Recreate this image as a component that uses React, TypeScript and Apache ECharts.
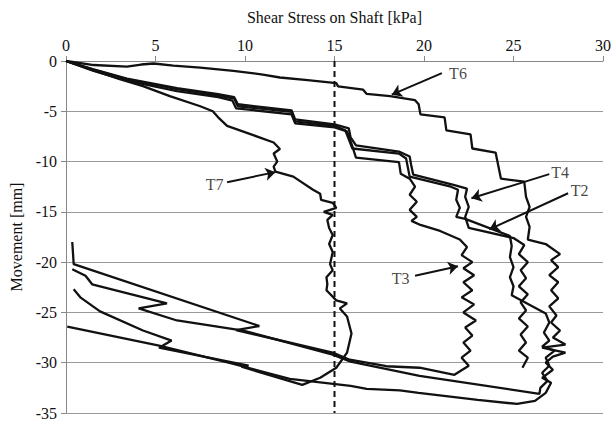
import React, { useEffect, useRef } from "react";
import * as echarts from "echarts";

// Axis ticks
const xTicks = [0, 5, 10, 15, 20, 25, 30];
const yTicks = [0, -5, -10, -15, -20, -25, -30, -35];
const xTitle = "Shear Stress on Shaft [kPa]";
const yTitle = "Movement [mm]";

// Curves: [shear stress kPa, movement mm]
const t6: number[][] = [
  [0, 0], [1.55, -0.4], [3.4, -0.55], [4.2, -0.35], [4.9, -0.25], [6.0, -0.45], [7.5, -0.65],
  [9.35, -0.98], [11.0, -1.35], [11.95, -1.64], [13.5, -1.9], [15.1, -2.2], [15.2, -2.52],
  [16.6, -2.85], [16.8, -3.27], [18.1, -3.5], [19.5, -3.9], [19.7, -4.3], [19.8, -5.3],
  [21.15, -5.6], [21.25, -6.9], [22.6, -7.3], [22.7, -8.7], [24.0, -9.1], [24.3, -11.7],
  [25.6, -12.0], [25.7, -13.5], [25.9, -14.5], [25.7, -15.5], [25.9, -16.5], [25.8, -17.75],
  [26.8, -18.2], [27.6, -19.2], [27.1, -19.8], [27.5, -20.5], [27.0, -21.3], [27.5, -22.0],
  [27.1, -22.8], [27.5, -23.6], [27.0, -24.4], [27.4, -25.3], [27.1, -26.0], [27.6, -26.8],
  [27.2, -27.5], [27.9, -28.2], [26.6, -28.5], [27.9, -29.0], [27.2, -29.4], [26.8, -30.0],
  [27.2, -30.7], [26.6, -31.5], [27.1, -32.0], [26.8, -33.0], [26.2, -33.8], [25.2, -34.1],
  [23.0, -33.7], [19.7, -33.0], [18.65, -32.75], [16.8, -32.6], [15.9, -32.3], [12.5, -31.6],
  [9.3, -30.1], [5.2, -28.3], [0.07, -26.4],
];

const t2: number[][] = [
  [0, 0], [1.5, -0.8], [3.4, -1.75], [6.2, -2.7], [8.5, -3.3], [9.4, -3.6], [9.6, -4.3],
  [12.6, -4.9], [12.8, -5.8], [15.0, -6.3], [15.8, -6.7], [15.9, -7.6], [16.2, -8.4],
  [18.6, -9.0], [19.2, -9.5], [19.3, -10.5], [19.4, -11.3], [21.6, -12.3], [22.4, -12.7],
  [22.3, -13.5], [22.5, -14.5], [22.3, -15.5], [22.5, -16.6], [25.0, -17.6], [25.6, -18.3],
  [25.3, -19.2], [25.8, -20.0], [25.4, -20.8], [25.7, -21.6], [25.3, -22.4], [25.8, -23.2],
  [25.4, -24.0], [25.7, -24.8], [25.3, -25.6], [25.8, -26.4], [25.4, -27.2], [25.7, -28.0],
  [25.3, -28.8], [25.8, -29.5], [25.5, -30.5],
];

const t4: number[][] = [
  [0, 0], [1.5, -0.85], [3.4, -1.8], [6.2, -2.8], [8.5, -3.45], [9.4, -3.75], [9.6, -4.5],
  [12.6, -5.05], [12.8, -6.0], [15.0, -6.45], [15.6, -6.9], [15.8, -7.8], [16.0, -8.7],
  [18.6, -9.2], [19.0, -9.7], [19.1, -10.6], [19.2, -11.5], [21.5, -12.5], [21.9, -12.8],
  [21.8, -13.8], [22.0, -14.6], [21.8, -15.5], [22.3, -15.7], [24.8, -17.4], [24.9, -18.4],
  [24.8, -19.5], [25.0, -20.5], [24.8, -21.5], [25.0, -22.4], [24.9, -23.3], [26.8, -25.1],
  [27.0, -26.0], [26.7, -27.0], [27.0, -27.8], [26.6, -28.4], [27.3, -28.8], [26.8, -29.5],
  [27.0, -30.3], [26.6, -31.0], [26.9, -31.8], [26.5, -32.5], [26.45, -33.1], [19.75, -31.3],
  [15.9, -29.9], [14.9, -29.2], [9.9, -26.8], [6.2, -25.8], [4.06, -24.6], [5.64, -24.1],
  [1.46, -22.2], [1.09, -21.35], [0.35, -20.7],
];

const t3: number[][] = [
  [0, 0], [1.5, -0.95], [3.4, -1.95], [6.2, -3.0], [8.5, -3.6], [9.3, -3.95], [9.5, -4.7],
  [12.6, -5.3], [12.8, -6.2], [15.0, -6.6], [15.7, -7.0], [16.0, -8.5], [16.2, -9.6],
  [18.6, -10.05], [18.7, -11.2], [19.2, -11.7], [19.5, -12.5], [19.2, -13.3], [19.6, -14.0],
  [19.2, -14.8], [19.6, -15.5], [19.3, -15.9], [19.8, -16.3], [20.9, -16.9], [22.0, -17.75],
  [22.4, -18.5], [22.1, -19.3], [22.7, -20.0], [22.2, -20.6], [22.8, -21.3], [22.2, -22.0],
  [22.7, -22.8], [22.1, -23.5], [22.8, -24.2], [22.2, -25.0], [22.9, -25.8], [22.3, -26.5],
  [22.7, -27.3], [22.2, -28.0], [22.6, -28.8], [22.1, -29.5], [22.5, -30.3], [21.7, -31.2],
  [19.75, -30.5], [17.9, -30.35], [15.85, -29.7], [14.9, -29.0], [9.5, -26.75], [10.8, -26.35],
  [0.43, -20.2], [0.35, -18.0],
];

const t7: number[][] = [
  [0, 0], [1.5, -0.9], [3.0, -1.8], [4.3, -2.5], [5.8, -3.5], [7.5, -4.5], [8.2, -5.0],
  [8.5, -5.6], [9.0, -6.45], [10.5, -7.4], [11.6, -8.1], [11.95, -8.75], [11.6, -9.2],
  [11.8, -10.0], [11.6, -10.5], [11.7, -11.0], [12.7, -11.5], [13.8, -12.8], [14.2, -13.2],
  [14.25, -13.8], [14.9, -14.1], [15.1, -14.6], [14.4, -15.0], [14.9, -15.3], [14.6, -15.8],
  [14.7, -16.6], [14.9, -17.3], [14.7, -18.2], [14.9, -19.0], [14.75, -20.2], [14.9, -20.8],
  [14.55, -21.5], [14.6, -22.2], [14.55, -22.8], [15.1, -23.8], [15.7, -24.1], [15.3, -24.6],
  [15.7, -25.4], [15.95, -27.1], [15.7, -29.0], [15.1, -30.5], [14.2, -31.5], [13.2, -32.2],
  [9.8, -30.4], [10.2, -30.3], [5.2, -28.5], [5.9, -27.8], [4.3, -26.8], [1.9, -24.9],
  [0.8, -23.5], [0.43, -22.7],
];

const limitLine: number[][] = [[15, 0], [15, -35]];

// Annotation labels and arrows
const labelNames = ["T6", "T4", "T2", "T7", "T3"];
const labelPos: number[][] = [[21.9, -1.2], [27.6, -11.1], [28.7, -12.9], [8.3, -12.3], [18.7, -21.6]];
const arrowStart: number[][] = [[21.0, -1.2], [27.0, -11.25], [28.05, -13.15], [9.0, -12.05], [19.5, -21.35]];
const arrowEnd: number[][] = [[18.2, -3.35], [22.65, -13.65], [23.65, -16.75], [11.7, -11.05], [21.9, -20.4]];

const FONT = "'Liberation Serif', 'Times New Roman', serif";

export default function App() {
  const ref = useRef<HTMLDivElement>(null);
  useEffect(() => {
    if (!ref.current) return;
    const chart = echarts.init(ref.current, undefined, { renderer: "svg" });
    const curveStyle = { color: "#111", width: 2.3 };
    const mk = (name: string, data: number[][]) => ({
      name,
      type: "line",
      data,
      showSymbol: false,
      symbol: "none",
      lineStyle: curveStyle,
      itemStyle: { color: "#111" },
      silent: true,
      z: 3,
    });
    chart.setOption({
      animation: false,
      backgroundColor: "#fff",
      textStyle: { fontFamily: FONT },
      grid: { left: 66, right: 12, top: 61, bottom: 4, containLabel: false },
      xAxis: {
        type: "value",
        position: "top",
        min: xTicks[0],
        max: xTicks[xTicks.length - 1],
        interval: 5,
        name: xTitle,
        nameLocation: "middle",
        nameGap: 36,
        nameTextStyle: { color: "#111", fontSize: 16, fontFamily: FONT },
        axisLine: { show: true, lineStyle: { color: "#888", width: 1 } },
        axisTick: { show: true, length: 5, lineStyle: { color: "#888" } },
        axisLabel: { color: "#111", fontSize: 16, fontFamily: FONT, margin: 8 },
        splitLine: { show: false },
      },
      yAxis: {
        type: "value",
        min: yTicks[yTicks.length - 1],
        max: yTicks[0],
        interval: 5,
        name: yTitle,
        nameLocation: "middle",
        nameGap: 42,
        nameRotate: 90,
        nameTextStyle: { color: "#111", fontSize: 16, fontFamily: FONT },
        axisLine: { show: true, lineStyle: { color: "#888", width: 1 } },
        axisTick: { show: true, length: 5, lineStyle: { color: "#888" } },
        axisLabel: { color: "#111", fontSize: 16, fontFamily: FONT, margin: 9 },
        splitLine: { show: true, lineStyle: { color: "#999", width: 1 } },
      },
      series: [
        {
          name: "limit",
          type: "line",
          data: limitLine,
          showSymbol: false,
          symbol: "none",
          lineStyle: { color: "#111", width: 2, type: [6, 4] },
          silent: true,
          z: 2,
        },
        mk("T6", t6),
        mk("T2", t2),
        mk("T4", t4),
        mk("T3", t3),
        mk("T7", t7),
        {
          name: "arrows",
          type: "lines",
          coordinateSystem: "cartesian2d",
          symbol: ["none", "arrow"],
          symbolSize: 10,
          lineStyle: { color: "#111", width: 2, opacity: 1 },
          silent: true,
          z: 4,
          data: arrowStart.map((s, i) => ({ coords: [s, arrowEnd[i]] })),
        },
        {
          name: "labels",
          type: "scatter",
          symbolSize: 1,
          itemStyle: { color: "rgba(0,0,0,0)" },
          silent: true,
          z: 5,
          label: {
            show: true,
            position: "inside",
            formatter: (p: any) => labelNames[p.dataIndex],
            color: "#111",
            fontSize: 16,
            fontFamily: FONT,
          },
          data: labelPos,
        },
      ],
    });
    return () => chart.dispose();
  }, []);
  return <div ref={ref} style={{ width: 615, height: 421, position: "absolute", left: 0, top: 0 }} />;
}
